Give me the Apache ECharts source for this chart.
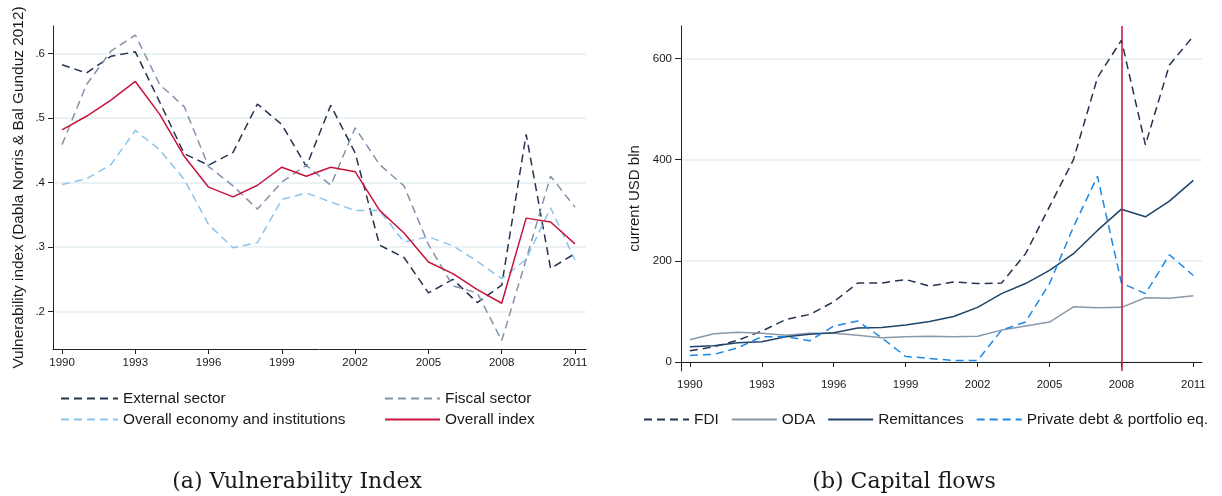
<!DOCTYPE html>
<html>
<head>
<meta charset="utf-8">
<script src="https://cdn.jsdelivr.net/npm/echarts@6/dist/echarts.min.js"></script>
<style>
html,body{margin:0;padding:0;background:#fff;}
#chart{width:1222px;height:496px;}
</style>
</head>
<body>
<div id="chart"></div>
<script>
// ---- Data ----
const years = [1990,1991,1992,1993,1994,1995,1996,1997,1998,1999,2000,2001,2002,2003,2004,2005,2006,2007,2008,2009,2010,2011];
const tickYears = [1990,1993,1996,1999,2002,2005,2008,2011];

// Panel (a): Vulnerability index
const externalSector = [0.583,0.570,0.596,0.603,0.525,0.445,0.427,0.447,0.522,0.490,0.425,0.520,0.446,0.303,0.284,0.229,0.250,0.214,0.241,0.475,0.267,0.290];
const fiscalSector   = [0.459,0.552,0.604,0.629,0.552,0.518,0.425,0.395,0.359,0.401,0.427,0.396,0.485,0.428,0.395,0.304,0.240,0.229,0.155,0.281,0.410,0.362];
const overallEconomy = [0.397,0.406,0.428,0.481,0.451,0.405,0.335,0.299,0.307,0.374,0.384,0.370,0.357,0.357,0.308,0.316,0.302,0.278,0.251,0.281,0.361,0.280];
const overallIndex   = [0.482,0.503,0.528,0.557,0.506,0.441,0.393,0.378,0.396,0.424,0.410,0.424,0.417,0.357,0.322,0.277,0.259,0.234,0.213,0.345,0.339,0.305];
const vulnTicks = [0.2,0.3,0.4,0.5,0.6];

// Panel (b): Capital flows (current USD bln)
const fdi         = [22,30,43,61,84,94,119,156,156,163,150,158,155,156,214,307,400,562,636,429,587,644];
const oda         = [44,56,59,57,53,57,57,53,48,50,51,50,51,63,71,79,109,107,108,127,126,131];
const remittances = [30,32,38,40,50,55,58,67,68,73,80,90,108,135,155,181,214,260,302,287,318,359];
const privateDebt = [13,15,28,50,50,42,71,81,48,11,7,3,3,63,79,155,267,367,156,135,212,171];
const flowTicks = [0,200,400,600];
const crisisYear = 2008;

// ---- Helpers ----
const zip = (vals) => years.map((y, i) => [y, vals[i]]);
const FONT = 'Liberation Sans, Arial, Helvetica, sans-serif';
const SERIF = 'DejaVu Serif, Liberation Serif, serif';
const TXT = '#1a1a1a';
const AX = '#222';
const GRIDC = '#e5eef1';

function xAx(grid) {
  return {
    type: 'value', gridIndex: grid, min: 1989.63, max: grid === 0 ? 2011.45 : 2011.36,
    axisLine: { show: true, lineStyle: { color: AX, width: 1 } },
    axisTick: { show: true, customValues: tickYears, length: 5, lineStyle: { color: AX } },
    axisLabel: { customValues: tickYears, formatter: v => String(v), margin: 8,
                 fontFamily: FONT, fontSize: 11.5, color: TXT },
    splitLine: { show: false }
  };
}

const chart = echarts.init(document.getElementById('chart'), null, { renderer: 'canvas' });

function line(name, vals, xi, color, dashed, width) {
  return {
    name, type: 'line', xAxisIndex: xi, yAxisIndex: xi, data: zip(vals),
    symbol: 'none', showSymbol: false, animation: false,
    lineStyle: { color, width: width || 1.5, type: dashed ? [8, 5] : 'solid' },
    itemStyle: { color }
  };
}

const legendCommon = {
  itemHeight: 14, selectedMode: false,
  itemStyle: { opacity: 0, color: 'transparent', borderWidth: 0 },
  textStyle: { fontFamily: FONT, fontSize: 15.4, color: TXT }
};

const option = {
  backgroundColor: '#fff',
  animation: false,
  grid: [
    { left: 53, top: 26, width: 533, height: 323 },
    { left: 681, top: 26, width: 521, height: 345 }
  ],
  xAxis: [xAx(0), xAx(1)],
  yAxis: [
    {
      type: 'value', gridIndex: 0, min: 0.142, max: 0.643,
      name: 'Vulnerability index (Dabla Norris & Bal Gunduz 2012)',
      nameLocation: 'middle', nameGap: 27, nameRotate: 90,
      nameTextStyle: { fontFamily: FONT, fontSize: 15.4, color: TXT },
      axisLine: { show: true, lineStyle: { color: AX, width: 1 } },
      axisTick: { show: true, customValues: vulnTicks, length: 5, lineStyle: { color: AX } },
      axisLabel: { customValues: vulnTicks, margin: 8, fontFamily: FONT, fontSize: 11.5, color: TXT,
                   formatter: v => String(Math.round(v * 10) / 10).replace(/^0/, '') },
      splitLine: { show: true, lineStyle: { color: GRIDC, width: 1.5 } }
    },
    {
      type: 'value', gridIndex: 1, min: -17.8, max: 664,
      name: 'current USD bln',
      nameLocation: 'middle', nameGap: 39, nameRotate: 90,
      nameTextStyle: { fontFamily: FONT, fontSize: 15, color: TXT },
      axisLine: { show: true, lineStyle: { color: AX, width: 1 } },
      axisTick: { show: true, customValues: flowTicks, length: 6, lineStyle: { color: AX } },
      axisLabel: { customValues: flowTicks, margin: 9, fontFamily: FONT, fontSize: 11.5, color: TXT,
                   formatter: v => String(Math.round(v)) },
      splitLine: { show: true, lineStyle: { color: GRIDC, width: 1.5 } }
    }
  ],
  legend: [
    Object.assign({ orient: 'vertical', left: 55, top: 386, itemWidth: 57, itemGap: 6,
      data: ['External sector', 'Overall economy and institutions'] }, legendCommon),
    Object.assign({ orient: 'vertical', left: 379, top: 386, itemWidth: 55, itemGap: 6,
      data: ['Fiscal sector', 'Overall index'] }, legendCommon),
    Object.assign({ orient: 'horizontal', left: 638, top: 407, itemWidth: 45, itemGap: 12,
      data: ['FDI', 'ODA', 'Remittances', 'Private debt & portfolio eq.'] }, legendCommon)
  ],
  title: [
    { text: '(a) Vulnerability Index', left: 292, top: 466, textAlign: 'center',
      textStyle: { fontFamily: SERIF, fontSize: 22, fontWeight: 'normal', color: TXT } },
    { text: '(b) Capital flows', left: 899, top: 466, textAlign: 'center',
      textStyle: { fontFamily: SERIF, fontSize: 22, fontWeight: 'normal', color: TXT } }
  ],
  series: [
    line('External sector', externalSector, 0, '#25324f', true),
    line('Fiscal sector', fiscalSector, 0, '#8293aa', true),
    line('Overall economy and institutions', overallEconomy, 0, '#8cc4ec', true),
    line('Overall index', overallIndex, 0, '#c8143c', false),
    Object.assign(line('FDI', fdi, 1, '#25324f', true), {
      markLine: { silent: true, symbol: ['none', 'none'], label: { show: false },
                  lineStyle: { color: '#c0163a', width: 1.5, type: 'solid' },
                  data: [{ xAxis: crisisYear }] }
    }),
    line('ODA', oda, 1, '#8a99aa', false),
    line('Remittances', remittances, 1, '#1f4468', false),
    line('Private debt & portfolio eq.', privateDebt, 1, '#1e88e5', true)
  ]
};
chart.setOption(option);
</script>
</body>
</html>
